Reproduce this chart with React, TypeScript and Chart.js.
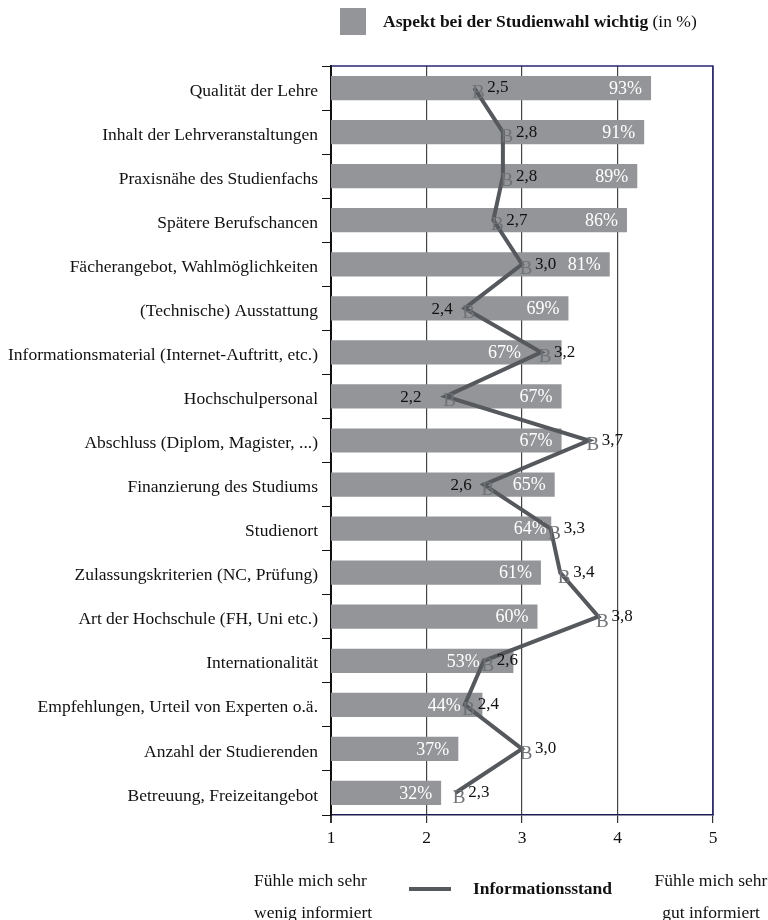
import React, { useEffect, useRef } from "react";
import { Chart, registerables } from "chart.js";

Chart.register(...registerables);

const categories: string[] = [
  "Qualität der Lehre",
  "Inhalt der Lehrveranstaltungen",
  "Praxisnähe des Studienfachs",
  "Spätere Berufschancen",
  "Fächerangebot, Wahlmöglichkeiten",
  "(Technische) Ausstattung",
  "Informationsmaterial (Internet-Auftritt, etc.)",
  "Hochschulpersonal",
  "Abschluss (Diplom, Magister, ...)",
  "Finanzierung des Studiums",
  "Studienort",
  "Zulassungskriterien (NC, Prüfung)",
  "Art der Hochschule (FH, Uni etc.)",
  "Internationalität",
  "Empfehlungen, Urteil von Experten o.ä.",
  "Anzahl der Studierenden",
  "Betreuung, Freizeitangebot",
];

const importance: number[] = [93, 91, 89, 86, 81, 69, 67, 67, 67, 65, 64, 61, 60, 53, 44, 37, 32];
const information: number[] = [2.5, 2.8, 2.8, 2.7, 3.0, 2.4, 3.2, 2.2, 3.7, 2.6, 3.3, 3.4, 3.8, 2.6, 2.4, 3.0, 2.3];
const xTicks: number[] = [1, 2, 3, 4, 5];

const SERIF = "'Liberation Serif', 'Times New Roman', serif";
const BAR_COLOR = "#939598";
const LINE_COLOR = "#55585c";
const LEFT_LABEL_ROWS = new Set([5, 7, 9]);

const fmt = (v: number) => v.toFixed(1).replace(".", ",");

const labelPlugin = {
  id: "customLabels",
  afterDatasetDraw(chart: any, args: any) {
    if (args.meta.type !== "bar") return;
    const ctx = chart.ctx;
    const lineMeta = chart.getDatasetMeta(0);
    ctx.save();
    ctx.font = `18px ${SERIF}`;
    ctx.fillStyle = "#ffffff";
    ctx.textAlign = "right";
    ctx.textBaseline = "middle";
    args.meta.data.forEach((bar: any, i: number) => {
      let xEnd = bar.x - 9;
      const px = lineMeta.data[i].x;
      if (px < bar.x && px > bar.x - 45) xEnd = i === 6 ? px - 20 : px - 4;
      ctx.fillText(`${importance[i]}%`, xEnd, bar.y + 1);
    });
    ctx.restore();
  },
  afterDatasetsDraw(chart: any) {
    const ctx = chart.ctx;
    const lineMeta = chart.getDatasetMeta(0);
    ctx.save();
    lineMeta.data.forEach((pt: any, i: number) => {
      ctx.font = `19px ${SERIF}`;
      ctx.fillStyle = "#6f7276";
      ctx.textAlign = "center";
      ctx.textBaseline = "middle";
      ctx.fillText("B", pt.x + 4, pt.y + 5);
      ctx.font = `17px ${SERIF}`;
      ctx.fillStyle = "#111111";
      if (LEFT_LABEL_ROWS.has(i)) {
        ctx.textAlign = "right";
        ctx.fillText(fmt(information[i]), pt.x - (i === 7 ? 24 : 12), pt.y + 1);
      } else {
        ctx.textAlign = "left";
        ctx.fillText(fmt(information[i]), pt.x + 13, pt.y);
      }
    });
    const a = chart.chartArea;
    ctx.strokeStyle = "#2a2870";
    ctx.lineWidth = 1.5;
    ctx.beginPath();
    ctx.moveTo(a.left, a.top);
    ctx.lineTo(a.right, a.top);
    ctx.lineTo(a.right, a.bottom);
    ctx.stroke();
    ctx.restore();
  },
};

export default function App() {
  const ref = useRef<HTMLCanvasElement | null>(null);

  useEffect(() => {
    if (!ref.current) return;
    const chart = new Chart(ref.current, {
      type: "bar",
      data: {
        labels: categories,
        datasets: [
          {
            type: "line",
            label: "Informationsstand",
            data: information,
            indexAxis: "y",
            xAxisID: "x",
            yAxisID: "y",
            borderColor: LINE_COLOR,
            borderWidth: 4,
            pointRadius: 0,
            tension: 0,
            order: 0,
          } as any,
          {
            type: "bar",
            label: "Aspekt bei der Studienwahl wichtig (in %)",
            data: importance,
            indexAxis: "y",
            xAxisID: "xp",
            yAxisID: "y",
            backgroundColor: BAR_COLOR,
            borderWidth: 0,
            categoryPercentage: 1,
            barPercentage: 0.55,
            order: 1,
          } as any,
        ],
      },
      options: {
        indexAxis: "y",
        animation: false,
        responsive: false,
        maintainAspectRatio: false,
        layout: { padding: { top: 66, right: 55, bottom: 75, left: 0 } },
        plugins: { legend: { display: false }, tooltip: { enabled: false } },
        scales: {
          x: {
            type: "linear",
            position: "bottom",
            min: 1,
            max: 5,
            afterBuildTicks: (scale: any) => {
              scale.ticks = xTicks.map((v) => ({ value: v }));
            },
            afterFit: (scale: any) => {
              scale.height = 30;
            },
            ticks: {
              font: { family: SERIF, size: 17.5 },
              color: "#111",
              padding: 5,
              callback: (v: any) => String(v),
            },
            grid: {
              color: (c: any) => (c.tick && c.tick.value === 1 ? "#111" : "#444"),
              lineWidth: (c: any) => (c.tick && c.tick.value === 1 ? 2 : 1.2),
              tickLength: 8,
              tickColor: "#333",
            },
            border: { display: true, color: "#1e1c50", width: 1.5 },
          },
          xp: {
            type: "linear",
            display: false,
            min: 0,
            max: 111,
          },
          y: {
            type: "category",
            position: "left",
            offset: true,
            afterFit: (scale: any) => {
              scale.width = 331;
            },
            ticks: {
              autoSkip: false,
              font: { family: SERIF, size: 17.5 },
              color: "#111",
              padding: 4,
              labelOffset: 3,
            },
            grid: {
              offset: true,
              drawOnChartArea: false,
              drawTicks: true,
              tickLength: 9,
              tickColor: "#111",
              color: "#111",
            },
            border: { display: true, color: "#111", width: 2 },
          },
        },
      } as any,
      plugins: [labelPlugin],
    });
    return () => chart.destroy();
  }, []);

  const textBase: React.CSSProperties = {
    position: "absolute",
    fontFamily: SERIF,
    fontSize: 17.5,
    color: "#111",
    whiteSpace: "nowrap",
    lineHeight: "20px",
  };

  return (
    <div style={{ position: "absolute", left: 0, top: 0, width: 768, height: 920, background: "#fff", overflow: "hidden" }}>
      <canvas ref={ref} width={768} height={920} style={{ position: "absolute", left: 0, top: 0, width: 768, height: 920 }} />
      <div style={{ position: "absolute", left: 340, top: 8, width: 26, height: 27, background: BAR_COLOR }} />
      <div style={{ ...textBase, left: 383, top: 11 }}>
        <b>Aspekt bei der Studienwahl wichtig</b> (in %)
      </div>
      <div style={{ ...textBase, left: 254, top: 870 }}>Fühle mich sehr</div>
      <div style={{ ...textBase, left: 254, top: 902 }}>wenig informiert</div>
      <div style={{ position: "absolute", left: 409, top: 887, width: 42, height: 4, background: LINE_COLOR }} />
      <div style={{ ...textBase, left: 473, top: 878, fontWeight: "bold" }}>Informationsstand</div>
      <div style={{ ...textBase, left: 651, top: 870, width: 120, textAlign: "center" }}>Fühle mich sehr</div>
      <div style={{ ...textBase, left: 651, top: 902, width: 120, textAlign: "center" }}>gut informiert</div>
    </div>
  );
}
